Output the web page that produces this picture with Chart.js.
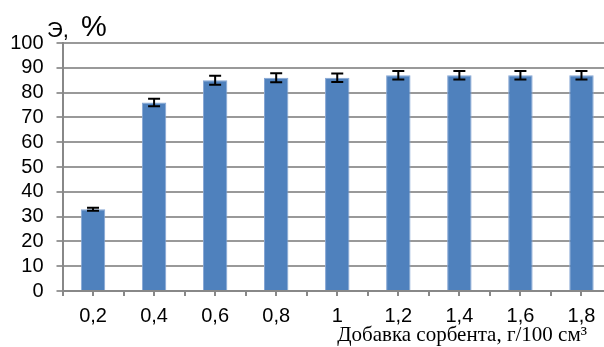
<!DOCTYPE html>
<html>
<head>
<meta charset="utf-8">
<script src="https://cdn.jsdelivr.net/npm/chart.js@4/dist/chart.umd.min.js"></script>
<style>
  html, body { margin: 0; padding: 0; background: #fff; overflow: hidden; }
  #wrap { position: relative; width: 612px; height: 347px; }
</style>
</head>
<body>
<div id="wrap"><canvas id="c"></canvas></div>
<script>
// Sorbent dose (g/100 cm3) and extraction degree, %
const categories = ['0,2', '0,4', '0,6', '0,8', '1', '1,2', '1,4', '1,6', '1,8'];
const extraction = [33, 76, 85, 86, 86, 87, 87, 87, 87];
const errors = [0.6, 1.5, 1.8, 1.8, 1.7, 1.7, 1.7, 1.7, 1.7];
const yTicks = [0, 10, 20, 30, 40, 50, 60, 70, 80, 90, 100];
const yTitle = 'Э,';
const yUnit = '%';
const xTitle = 'Добавка сорбента, г/100 см³';

const SANS = '"Liberation Sans", Arial, sans-serif';
const SERIF = '"Liberation Serif", "Times New Roman", serif';

// Error bars, centre tick marks and axis titles
const extras = {
  id: 'extras',
  afterDatasetsDraw(chart) {
    const ctx = chart.ctx;
    const x = chart.scales.x, y = chart.scales.y;
    ctx.save();
    ctx.strokeStyle = '#000';
    ctx.lineWidth = 2;
    extraction.forEach((v, i) => {
      const px = x.getPixelForValue(i);
      const top = y.getPixelForValue(v + errors[i]);
      const bot = y.getPixelForValue(v - errors[i]);
      ctx.beginPath();
      ctx.moveTo(px, top); ctx.lineTo(px, bot);
      ctx.moveTo(px - 6, top); ctx.lineTo(px + 6, top);
      ctx.moveTo(px - 6, bot); ctx.lineTo(px + 6, bot);
      ctx.stroke();
    });
    ctx.restore();
  },
  afterDraw(chart) {
    const ctx = chart.ctx;
    const x = chart.scales.x;
    const area = chart.chartArea;
    ctx.save();
    ctx.strokeStyle = '#888';
    ctx.lineWidth = 2;
    categories.forEach((c, i) => {
      const px = Math.round(x.getPixelForValue(i));
      ctx.beginPath();
      ctx.moveTo(px, area.bottom); ctx.lineTo(px, area.bottom + 5);
      ctx.stroke();
    });
    ctx.fillStyle = '#000';
    ctx.textBaseline = 'alphabetic';
    ctx.textAlign = 'left';
    ctx.font = '22px ' + SANS;
    ctx.fillText(yTitle, 47, 37);
    ctx.font = '29px ' + SANS;
    ctx.fillText(yUnit, 81, 36);
    ctx.textAlign = 'right';
    ctx.font = '21px ' + SERIF;
    ctx.fillText(xTitle, 587, 341);
    ctx.restore();
  }
};

new Chart(document.getElementById('c'), {
  type: 'bar',
  data: {
    labels: categories,
    datasets: [{
      data: extraction,
      backgroundColor: '#4F81BD',
      borderColor: '#86A6D4',
      borderWidth: 1,
      barPercentage: 0.4,
      categoryPercentage: 1.0
    }]
  },
  options: {
    responsive: true,
    maintainAspectRatio: false,
    animation: false,
    layout: { padding: { top: 43, right: 0, left: 0, bottom: 0 } },
    plugins: { legend: { display: false }, tooltip: { enabled: false } },
    scales: {
      x: {
        grid: { display: true, drawOnChartArea: false, offset: true, tickLength: 5, color: '#888', lineWidth: 2 },
        border: { color: '#888', width: 2 },
        ticks: { color: '#000', font: { family: SANS, size: 20 }, padding: 8, maxRotation: 0 },
        afterFit(s) { s.height = 56; }
      },
      y: {
        min: 0, max: 100,
        afterBuildTicks(s) { s.ticks = yTicks.map(v => ({ value: v })); },
        grid: { color: '#999', lineWidth: 2, tickLength: 6 },
        border: { color: '#888', width: 2 },
        ticks: { color: '#000', font: { family: SANS, size: 20 }, padding: 13, autoSkip: false },
        afterFit(s) { s.width = 62.5; }
      }
    }
  },
  plugins: [extras]
});
</script>
</body>
</html>
